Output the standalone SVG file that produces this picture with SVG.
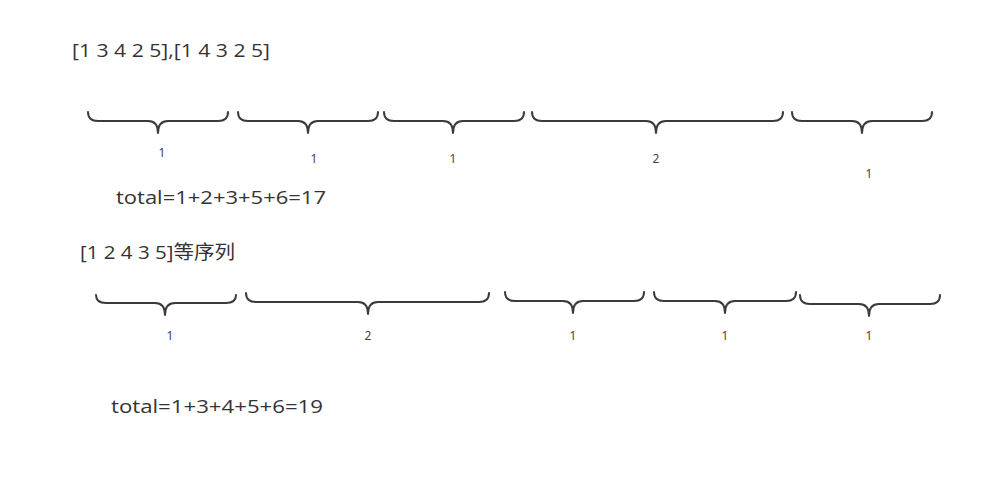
<svg xmlns="http://www.w3.org/2000/svg" width="984" height="477" viewBox="0 0 984 477">
<style>
.t{font-family:"Open Sans","Noto Sans CJK SC",sans-serif;font-size:19px;fill:#333}
.l{font-family:"Noto Sans","Liberation Sans",sans-serif;font-size:12px;fill:#444;text-anchor:middle}
.b{fill:none;stroke:#3a3a3a;stroke-width:2;stroke-linecap:round;stroke-linejoin:round}
</style>
<rect width="984" height="477" fill="#fff"/>
<g id="labels">
<text class="t" x="72" y="57" textLength="198" lengthAdjust="spacingAndGlyphs">[1 3 4 2 5],[1 4 3 2 5]</text>
<text class="t" x="116" y="204" textLength="210" lengthAdjust="spacingAndGlyphs">total=1+2+3+5+6=17</text>
<text class="t" x="80" y="259" textLength="155" lengthAdjust="spacingAndGlyphs">[1 2 4 3 5]等序列</text>
<text class="t" x="111" y="413" textLength="212" lengthAdjust="spacingAndGlyphs">total=1+3+4+5+6=19</text>
</g>
<g id="connectors">
<path id="b1" class="b" d="M88,112 Q88,121 98,121 L148,121 Q158,121 158,133 Q158,121 168,121 L218,121 Q228,121 228,112"/>
<path id="b2" class="b" d="M238,112 Q238,121 248,121 L298,121 Q308,121 308,133 Q308,121 318,121 L368,121 Q378,121 378,112"/>
<path id="b3" class="b" d="M384,112 Q384,121 394,121 L443,121 Q453,121 453,133 Q453,121 463,121 L514,121 Q524,121 524,112"/>
<path id="b4" class="b" d="M532,112 Q532,121 542,121 L646,121 Q656,121 656,133 Q656,121 666,121 L773,121 Q783,121 783,112"/>
<path id="b5" class="b" d="M792,112 Q792,121 802,121 L852,121 Q862,121 862,133 Q862,121 872,121 L922,121 Q932,121 932,112"/>
<path id="c1" class="b" d="M96,295 Q96,303 106,303 L155,303 Q165,303 165,315 Q165,303 175,303 L226,303 Q236,303 236,295"/>
<path id="c2" class="b" d="M246,293 Q246,302 256,302 L358,302 Q368,302 368,314 Q368,302 378,302 L479,302 Q489,302 489,293"/>
<path id="c3" class="b" d="M505,292 Q505,301 515,301 L563,301 Q573,301 573,313 Q573,301 583,301 L634,301 Q644,301 644,292"/>
<path id="c4" class="b" d="M654,292 Q654,301 664,301 L715,301 Q725,301 725,313 Q725,301 735,301 L786,301 Q796,301 796,292"/>
<path id="c5" class="b" d="M800,295 Q800,304 810,304 L859,304 Q869,304 869,316 Q869,304 879,304 L930,304 Q940,304 940,295"/>
</g>
<g id="n1"><text class="l" x="162" y="157">1</text></g>
<g id="n2"><text class="l" x="314" y="163">1</text></g>
<g id="n3"><text class="l" x="453" y="163">1</text></g>
<g id="n4"><text class="l" x="656" y="163">2</text></g>
<g id="n5"><text class="l" x="869" y="178">1</text></g>
<g id="m1"><text class="l" x="170" y="340">1</text></g>
<g id="m2"><text class="l" x="368" y="340">2</text></g>
<g id="m3"><text class="l" x="573" y="340">1</text></g>
<g id="m4"><text class="l" x="725" y="340">1</text></g>
<g id="m5"><text class="l" x="869" y="340">1</text></g>
</svg>
